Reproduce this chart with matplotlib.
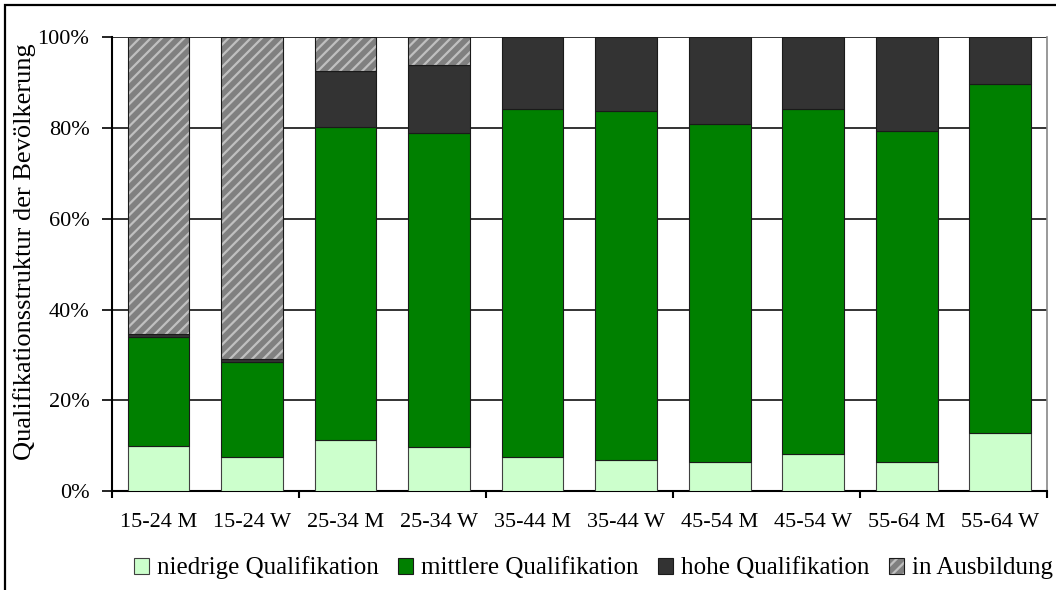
import matplotlib
matplotlib.use("Agg")
import matplotlib.pyplot as plt
import numpy as np
from matplotlib.patches import Rectangle, Patch

plt.rcParams['font.family'] = ['Liberation Serif', 'DejaVu Serif']
plt.rcParams['hatch.linewidth'] = 1.6

# Age group / sex categories
categories = ["15-24 M", "15-24 W", "25-34 M", "25-34 W", "35-44 M",
              "35-44 W", "45-54 M", "45-54 W", "55-64 M", "55-64 W"]

# Shares of the population in percent
niedrig = [10.0, 7.6, 11.3, 9.8, 7.6, 6.8, 6.5, 8.1, 6.4, 12.7]
mittel = [24.0, 20.8, 68.9, 69.0, 76.6, 77.0, 74.4, 76.1, 72.9, 77.0]
hoch = [0.5, 0.8, 12.4, 15.1, 15.8, 16.2, 19.1, 15.8, 20.7, 10.3]
ausbildung = [65.5, 70.8, 7.4, 6.1, 0.0, 0.0, 0.0, 0.0, 0.0, 0.0]

series_labels = ["niedrige Qualifikation", "mittlere Qualifikation",
                 "hohe Qualifikation", "in Ausbildung"]
y_ticks = [0, 20, 40, 60, 80, 100]

fig = plt.figure(figsize=(10.56, 5.90), dpi=100)
ax = fig.add_axes([111.7 / 1056, 1 - 491 / 590, (1047 - 111.7) / 1056, (491 - 37.3) / 590])

x = np.arange(len(categories))
width = 0.66
edge = '#1a1a1a'
stripe = '#C0C0C0'
hatch = '///'

ax.bar(x, niedrig, width, color='#CCFFCC', edgecolor='#404040', linewidth=0.8, zorder=3)
bottom = np.array(niedrig)
ax.bar(x, mittel, width, bottom=bottom, color='#008000', edgecolor=edge, linewidth=0.8, zorder=3)
bottom = bottom + np.array(mittel)
ax.bar(x, hoch, width, bottom=bottom, color='#333333', edgecolor=edge, linewidth=0.8, zorder=3)
bottom = bottom + np.array(hoch)
mask = np.array(ausbildung) > 0
# striped fill first, outline on top
ax.bar(x[mask], np.array(ausbildung)[mask], width, bottom=bottom[mask],
       color='#808080', edgecolor=stripe, linewidth=0, hatch=hatch, zorder=3)
ax.bar(x[mask], np.array(ausbildung)[mask], width, bottom=bottom[mask],
       fill=False, edgecolor=edge, linewidth=0.8, zorder=4)

ax.set_xlim(-0.5, len(categories) - 0.5)
ax.set_ylim(0, 100)

# horizontal gridlines
for yv in y_ticks[1:]:
    ax.axhline(yv, color='#111111', linewidth=1.2, zorder=1)

ax.set_yticks(y_ticks)
ax.set_yticklabels([f"{v}%" for v in y_ticks], fontsize=16)
ax.tick_params(axis='y', direction='out', length=7, width=1.2, pad=9)

# group ticks every two categories, labels centered below each bar
ax.set_xticks(np.arange(-0.5, len(categories), 2))
ax.set_xticklabels([])
ax.tick_params(axis='x', which='major', direction='out', length=5, width=1.5)
ax.set_xticks(x, minor=True)
ax.set_xticklabels(categories, minor=True, fontsize=16)
ax.tick_params(axis='x', which='minor', length=0, pad=16)

for s in ['left', 'bottom']:
    ax.spines[s].set_linewidth(1.5)
    ax.spines[s].set_color('black')
ax.spines['top'].set_visible(False)
ax.spines['right'].set_color('#888888')
ax.spines['right'].set_linewidth(1.2)

ax.set_ylabel("Qualifikationsstruktur der Bevölkerung", fontsize=19)
ax.yaxis.set_label_coords(-0.081, 0.527)

handles = [Patch(facecolor='#CCFFCC', edgecolor='#404040', linewidth=0.8),
           Patch(facecolor='#008000', edgecolor=edge, linewidth=0.8),
           Patch(facecolor='#333333', edgecolor=edge, linewidth=0.8),
           (Patch(facecolor='#808080', edgecolor=stripe, linewidth=0, hatch=hatch),
            Patch(fill=False, edgecolor=edge, linewidth=0.8))]
fig.legend(handles, series_labels, loc='center', bbox_to_anchor=(0.562, 1 - 568 / 590),
           ncol=4, frameon=False, prop={'size': 18}, handlelength=0.6, handleheight=0.6,
           handletextpad=0.3, columnspacing=0.8, borderaxespad=0)

# outer chart frame
fig.patches.append(Rectangle((5 / 1056, -0.1), 1.2, 1 - 5 / 590 + 0.1,
                             transform=fig.transFigure, fill=False,
                             edgecolor='black', linewidth=1.6))

fig.savefig("out.png", dpi=100)
